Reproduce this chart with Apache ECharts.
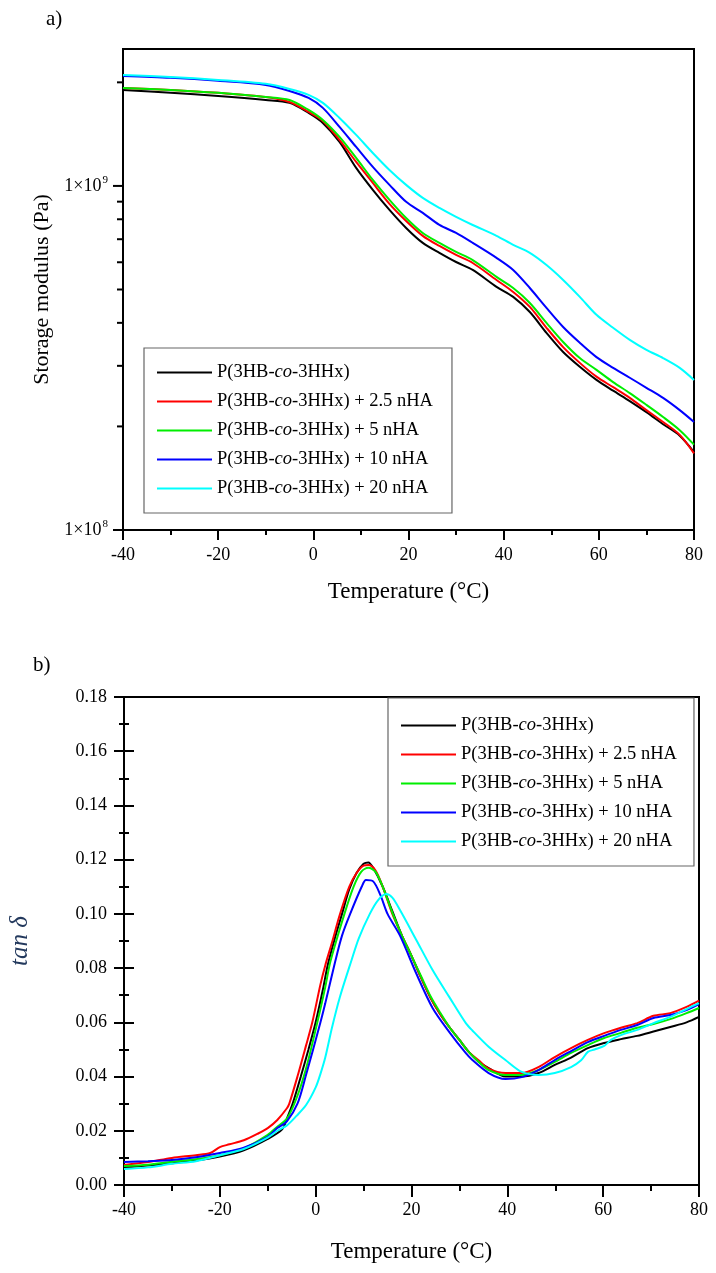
<!DOCTYPE html>
<html>
<head>
<meta charset="utf-8">
<script src="https://cdn.jsdelivr.net/npm/echarts@6/dist/echarts.min.js"></script>
<style>
html,body{margin:0;padding:0;background:#fff;}
#main{width:716px;height:1273px;}
</style>
</head>
<body>
<div id="main"></div>
<script>
// ---------- DATA ----------
const seriesNames = [
  'P(3HB-co-3HHx)',
  'P(3HB-co-3HHx) + 2.5 nHA',
  'P(3HB-co-3HHx) + 5 nHA',
  'P(3HB-co-3HHx) + 10 nHA',
  'P(3HB-co-3HHx) + 20 nHA'
];
const seriesColors = ['#000000', '#ff0000', '#00ee00', '#0000ff', '#00ffff'];

// a) Storage modulus (Pa) vs Temperature (°C)
const modT = [-40, -30, -20, -10, -5, -1, 2, 5.5, 9, 12.5, 16, 19.5, 23, 26.5, 30, 33.5, 38.5, 42, 45.5, 49, 52.5, 56, 59.5, 63, 66.5, 70, 73.5, 77, 80];
const modBlack = [1.901e9, 1.864e9, 1.826e9, 1.778e9, 1.743e9, 1.630e9, 1.524e9, 1.342e9, 1.128e9, 0.974e9, 0.852e9, 0.755e9, 0.683e9, 0.639e9, 0.601e9, 0.570e9, 0.509e9, 0.476e9, 0.430e9, 0.374e9, 0.329e9, 0.298e9, 0.273e9, 0.254e9, 0.237e9, 0.220e9, 0.203e9, 0.188e9, 0.1685e9];
const modRed = [1.927e9, 1.901e9, 1.864e9, 1.814e9, 1.754e9, 1.641e9, 1.545e9, 1.360e9, 1.174e9, 1.020e9, 0.887e9, 0.791e9, 0.716e9, 0.669e9, 0.630e9, 0.597e9, 0.533e9, 0.492e9, 0.445e9, 0.387e9, 0.340e9, 0.306e9, 0.279e9, 0.260e9, 0.242e9, 0.223e9, 0.206e9, 0.189e9, 0.167e9];
const modGreen = [1.927e9, 1.901e9, 1.864e9, 1.814e9, 1.778e9, 1.663e9, 1.555e9, 1.388e9, 1.206e9, 1.041e9, 0.911e9, 0.807e9, 0.730e9, 0.683e9, 0.643e9, 0.609e9, 0.544e9, 0.505e9, 0.457e9, 0.400e9, 0.352e9, 0.316e9, 0.292e9, 0.269e9, 0.250e9, 0.231e9, 0.213e9, 0.195e9, 0.177e9];
const modBlue = [2.088e9, 2.061e9, 2.020e9, 1.966e9, 1.888e9, 1.802e9, 1.686e9, 1.484e9, 1.298e9, 1.136e9, 1.007e9, 0.899e9, 0.835e9, 0.770e9, 0.730e9, 0.683e9, 0.618e9, 0.570e9, 0.505e9, 0.442e9, 0.389e9, 0.350e9, 0.318e9, 0.296e9, 0.277e9, 0.259e9, 0.242e9, 0.223e9, 0.206e9];
const modCyan = [2.102e9, 2.074e9, 2.033e9, 1.980e9, 1.914e9, 1.839e9, 1.743e9, 1.576e9, 1.407e9, 1.247e9, 1.113e9, 1.007e9, 0.923e9, 0.863e9, 0.813e9, 0.770e9, 0.716e9, 0.674e9, 0.639e9, 0.589e9, 0.533e9, 0.476e9, 0.422e9, 0.387e9, 0.357e9, 0.334e9, 0.316e9, 0.296e9, 0.273e9];
const modMajorTicks = [1e8, 1e9];
const modMinorTicks = [2e8, 3e8, 4e8, 5e8, 6e8, 7e8, 8e8, 9e8, 2e9];

// b) tan δ vs Temperature (°C)  [T, tanδ]
const tanBlack = [[-40,0.0066],[-35,0.0072],[-30,0.0080],[-25,0.0090],[-20,0.0105],[-15,0.0128],[-10,0.0170],[-7,0.0205],[-6,0.0245],[-4.8,0.030],[-3.1,0.040],[-1.5,0.050],[0,0.060],[1.5,0.072],[2.5,0.081],[4,0.091],[5.5,0.100],[7,0.109],[8.5,0.115],[10,0.1185],[11,0.119],[12,0.117],[14,0.110],[16,0.101],[18,0.092],[20,0.0845],[22,0.0765],[24,0.069],[26,0.063],[28,0.058],[30,0.0535],[32,0.049],[34,0.0455],[36.1,0.0431],[39.6,0.040],[43,0.040],[46.5,0.0413],[49.9,0.0443],[53.3,0.047],[56.8,0.0505],[60.2,0.0524],[63.7,0.0538],[67.1,0.055],[70.5,0.0566],[74,0.0583],[77.4,0.060],[80,0.062]];
const tanRed = [[-40,0.0074],[-35,0.0085],[-30,0.0100],[-25,0.0110],[-22,0.0118],[-20,0.0140],[-18,0.0150],[-15,0.0165],[-12,0.0190],[-10,0.0210],[-8,0.0240],[-6,0.0283],[-5.5,0.030],[-3.8,0.040],[-2,0.0515],[-0.7,0.060],[1,0.074],[2,0.081],[3.5,0.090],[5,0.0995],[7,0.110],[8.5,0.115],[10,0.1178],[11,0.118],[12.5,0.116],[14,0.110],[16,0.100],[18,0.092],[20,0.0845],[22,0.0765],[24,0.069],[26,0.063],[28,0.058],[30,0.0535],[32,0.049],[34,0.046],[36,0.043],[39.6,0.0413],[43,0.0413],[46.5,0.0435],[49.9,0.0472],[53.3,0.0505],[56.8,0.0535],[60.2,0.056],[63.7,0.058],[67.1,0.0597],[70.5,0.0624],[74,0.0634],[77.4,0.0657],[80,0.068]];
const tanGreen = [[-40,0.0070],[-35,0.0075],[-30,0.0086],[-25,0.0095],[-20,0.0110],[-15,0.0135],[-10,0.0185],[-8,0.0215],[-6,0.0245],[-4,0.032],[-2,0.043],[0.35,0.060],[2,0.073],[3.1,0.0826],[6,0.100],[7.9,0.110],[9.5,0.1155],[11,0.117],[12.5,0.1155],[14,0.110],[16,0.1005],[18,0.092],[20,0.0845],[22,0.077],[24,0.0695],[26,0.0635],[28,0.058],[30,0.0535],[32,0.049],[34,0.0455],[36,0.0425],[39.6,0.0406],[43,0.0406],[46.5,0.0424],[49.9,0.0454],[53.3,0.0487],[56.8,0.0516],[60.2,0.0542],[63.7,0.0561],[67.1,0.058],[70.5,0.0594],[74,0.0612],[77.4,0.0634],[80,0.0653]];
const tanBlue = [[-40,0.0085],[-35,0.0088],[-30,0.0092],[-25,0.0102],[-20,0.0118],[-15,0.0138],[-10,0.0178],[-8,0.021],[-6,0.0235],[-3.8,0.030],[-2.1,0.040],[1,0.060],[2,0.067],[4.1,0.0826],[5.5,0.092],[7.2,0.100],[9.6,0.110],[10.5,0.1125],[12,0.112],[13.5,0.107],[15,0.100],[17.6,0.092],[21,0.078],[24.4,0.0653],[27.9,0.0564],[31.3,0.0487],[32.7,0.0461],[36.1,0.0413],[39.6,0.0391],[43,0.0398],[46.5,0.0424],[49.9,0.0461],[53.3,0.0494],[56.8,0.0527],[60.2,0.055],[63.7,0.0572],[67.1,0.059],[70.5,0.0616],[74,0.0627],[77.4,0.0645],[80,0.0667]];
const tanCyan = [[-40,0.0059],[-35,0.0065],[-30,0.0078],[-25,0.0088],[-20,0.0110],[-15,0.0133],[-10,0.0175],[-8,0.020],[-6,0.022],[-4,0.0255],[-2,0.0295],[0,0.036],[1,0.041],[2,0.047],[3.4,0.058],[5,0.069],[7.5,0.083],[9,0.091],[11.3,0.100],[13,0.105],[14.7,0.1073],[16,0.106],[17.6,0.1014],[21,0.0904],[24.4,0.0793],[27.9,0.0693],[31.3,0.0598],[32.7,0.057],[36.1,0.051],[39.6,0.0461],[43,0.0417],[46.5,0.0406],[49.9,0.0413],[53.3,0.0435],[55.4,0.046],[56.8,0.0491],[58.2,0.050],[60.2,0.0513],[61.6,0.0535],[63.7,0.0553],[67.1,0.0572],[70.5,0.0597],[74,0.062],[77.4,0.0649],[80,0.0671]];

const tempMin = -40, tempMax = 80, tempStep = 20;
const modMin = 1e8, modMax = 2.5e9;
const tanMin = 0, tanMax = 0.18, tanStep = 0.02;

// ---------- CHART ----------
const FONT = "'Liberation Serif', 'DejaVu Serif', serif";
const chart = echarts.init(document.getElementById('main'), null, {renderer: 'canvas'});

const modSets = [modBlack, modRed, modGreen, modBlue, modCyan];
const tanSets = [tanBlack, tanRed, tanGreen, tanBlue, tanCyan];

function legendFmt(name) {
  const base = 'P(3HB-co-3HHx)';
  const rest = name.slice(base.length);
  return '{n|P(3HB-}{i|co}{n|-3HHx)' + rest + '}';
}
const LFS = 18.5;
const legendRich = {
  n: {fontFamily: FONT, fontSize: LFS, color: '#000', lineHeight: 20},
  i: {fontFamily: FONT, fontSize: LFS, color: '#000', fontStyle: 'italic', lineHeight: 20}
};

const series = [];
modSets.forEach((arr, k) => {
  series.push({
    name: seriesNames[k], type: 'line', xAxisIndex: 0, yAxisIndex: 0,
    data: modT.map((t, i) => [t, arr[i]]),
    showSymbol: false, symbol: 'none', smooth: 0.3,
    lineStyle: {color: seriesColors[k], width: 2}, itemStyle: {color: seriesColors[k]},
    silent: true, z: 3
  });
});
tanSets.forEach((arr, k) => {
  series.push({
    name: seriesNames[k], type: 'line', xAxisIndex: 1, yAxisIndex: 1,
    data: arr,
    showSymbol: false, symbol: 'none', smooth: 0.3,
    lineStyle: {color: seriesColors[k], width: 2}, itemStyle: {color: seriesColors[k]},
    silent: true, z: 3
  });
});
// log-axis ticks for a) drawn through the log scale
function tickSeries(values, len) {
  return {
    type: 'custom', xAxisIndex: 0, yAxisIndex: 0, silent: true, clip: false, z: 5,
    data: values.map(v => [tempMin, v]),
    renderItem: function (params, api) {
      const p = api.coord([api.value(0), api.value(1)]);
      return {type: 'line', shape: {x1: p[0] - len, y1: p[1], x2: p[0], y2: p[1]},
              style: {stroke: '#000', lineWidth: 2}};
    }
  };
}
series.push(tickSeries(modMajorTicks, 10));
series.push(tickSeries(modMinorTicks, 6));

const axisLine = {show: true, onZero: false, lineStyle: {color: '#000', width: 2}};
const labelStyle = {color: '#000', fontFamily: FONT, fontSize: 18};

const option = {
  animation: false,
  backgroundColor: '#fff',
  grid: [
    {left: 123, top: 49, width: 571, height: 481, show: true, borderColor: '#000', borderWidth: 2, backgroundColor: 'transparent'},
    {left: 118, top: 697, width: 581, height: 488, show: true, borderColor: '#000', borderWidth: 2, backgroundColor: 'transparent'}
  ],
  xAxis: [
    {gridIndex: 0, type: 'value', position: 'bottom', min: tempMin, max: tempMax, interval: tempStep,
     axisLine: axisLine, axisTick: {show: true, length: 10, lineStyle: {color: '#000', width: 2}},
     minorTick: {show: true, splitNumber: 2, length: 5, lineStyle: {color: '#000', width: 2}},
     splitLine: {show: false}, axisLabel: Object.assign({margin: 16}, labelStyle),
     name: 'Temperature (°C)', nameLocation: 'middle', nameGap: 50,
     nameTextStyle: {color: '#000', fontFamily: FONT, fontSize: 23}},
    {gridIndex: 1, type: 'value', position: 'bottom', min: tempMin, max: tempMax, interval: tempStep,
     axisLine: axisLine, axisTick: {show: true, length: 12, lineStyle: {color: '#000', width: 2}},
     minorTick: {show: true, splitNumber: 2, length: 6, lineStyle: {color: '#000', width: 2}},
     splitLine: {show: false}, axisLabel: Object.assign({margin: 16}, labelStyle),
     name: 'Temperature (°C)', nameLocation: 'middle', nameGap: 55,
     nameTextStyle: {color: '#000', fontFamily: FONT, fontSize: 23}}
  ],
  yAxis: [
    {gridIndex: 0, type: 'log', logBase: 10, position: 'left', min: modMin, max: modMax,
     axisLine: axisLine, axisTick: {show: false}, minorTick: {show: false}, splitLine: {show: false},
     axisLabel: {margin: 15, showMaxLabel: false,
       formatter: function (v) {
         const e = Math.round(Math.log10(v));
         if (Math.abs(Math.pow(10, e) - v) / v > 1e-6) return '';
         return '{m|1×10}{s|' + e + '}';
       },
       rich: {m: {fontFamily: FONT, fontSize: 18, color: '#000'},
              s: {fontFamily: FONT, fontSize: 11, color: '#000', verticalAlign: 'top', padding: [0, 0, 12, 1]}}},
     name: 'Storage modulus (Pa)', nameLocation: 'middle', nameGap: 65,
     nameTextStyle: {color: '#000', fontFamily: FONT, fontSize: 22}},
    {gridIndex: 1, type: 'value', position: 'left', min: tanMin, max: tanMax, interval: tanStep,
     axisLine: axisLine, axisTick: {show: true, length: 10, lineStyle: {color: '#000', width: 2}},
     minorTick: {show: true, splitNumber: 2, length: 5, lineStyle: {color: '#000', width: 2}},
     splitLine: {show: false},
     axisLabel: Object.assign({margin: 17, formatter: v => v.toFixed(2)}, labelStyle),
     name: 'tan δ', nameLocation: 'middle', nameGap: 91,
     nameTextStyle: {color: '#23395d', fontFamily: FONT, fontSize: 25, fontStyle: 'italic'}},
    {gridIndex: 1, type: 'value', position: 'left', offset: 0, min: tanMin, max: tanMax, interval: tanStep,
     axisLine: {show: false, onZero: false}, axisTick: {show: true, inside: true, length: 10, lineStyle: {color: '#000', width: 2}},
     minorTick: {show: true, splitNumber: 2, length: 5, lineStyle: {color: '#000', width: 2}},
     splitLine: {show: false}, axisLabel: {show: false}}
  ],
  legend: [
    {left: 144, top: 348, orient: 'vertical', data: seriesNames, selectedMode: false,
     icon: 'rect', itemWidth: 55, itemHeight: 2, itemGap: 10,
     padding: [15, 19, 15, 13], borderColor: '#666', borderWidth: 1.2, backgroundColor: '#fff',
     formatter: legendFmt, textStyle: {fontFamily: FONT, fontSize: LFS, color: '#000', rich: legendRich}},
    {left: 388, top: 698, orient: 'vertical', data: seriesNames, selectedMode: false,
     icon: 'rect', itemWidth: 55, itemHeight: 2, itemGap: 10,
     padding: [18, 17, 15, 13], borderColor: '#666', borderWidth: 1.2, backgroundColor: '#fff',
     formatter: legendFmt, textStyle: {fontFamily: FONT, fontSize: LFS, color: '#000', rich: legendRich}}
  ],
  graphic: [
    {type: 'text', left: 46, top: 9, style: {text: 'a)', fontFamily: FONT, fontSize: 21, fill: '#000'}},
    {type: 'text', left: 33, top: 655, style: {text: 'b)', fontFamily: FONT, fontSize: 21, fill: '#000'}}
  ],
  series: series
};
chart.setOption(option);
</script>
</body>
</html>
